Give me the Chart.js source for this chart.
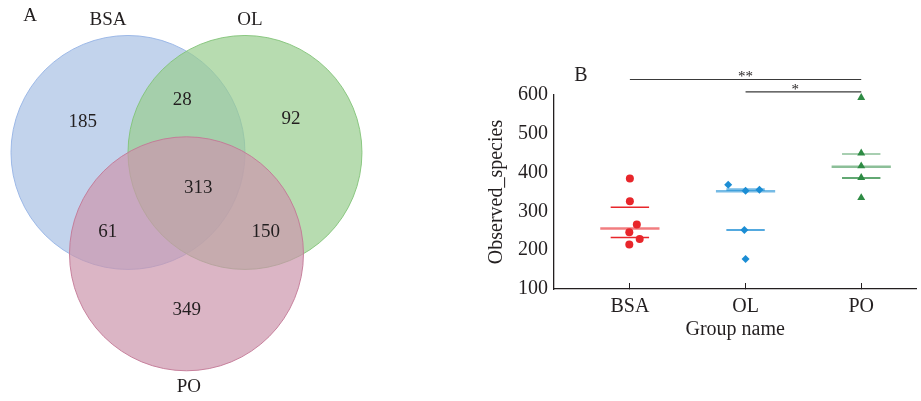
<!DOCTYPE html>
<html>
<head>
<meta charset="utf-8">
<script src="https://cdn.jsdelivr.net/npm/chart.js@4.4.0/dist/chart.umd.min.js"></script>
<style>
    body { margin: 0; background: #fff; }
    #wrap { position: relative; width: 921px; height: 401px; }
    #venn { position: absolute; left: 0; top: 0; }
    #dots { position: absolute; left: 460px; top: 0; }
</style>
</head>
<body>
<div id="wrap">
    <canvas id="venn" width="460" height="401"></canvas>
    <canvas id="dots" width="461" height="401"></canvas>
</div>
<script>
// ---- Panel A data (Venn) ----
const vennSets = ['BSA', 'OL', 'PO'];
// circle centres, unit radius
const vennCentersX = [-0.5, 0.5, 0];
const vennCentersY = [0, 0, -0.866];
const vennRadius = 1;
// BSA only, OL only, PO only, BSA&OL, BSA&PO, OL&PO, all three
const vennCounts = [185, 92, 349, 28, 61, 150, 313];
const vennCountX = [-0.887, 0.893, 0.002, -0.036, -0.674, 0.677, 0.101];
const vennCountY = [0.263, 0.283, -1.344, 0.448, -0.677, -0.682, -0.306];
const vennSetLabelX = [-0.671, 0.543, 0.021];
const vennSetLabelY = [1.132, 1.132, -2.005];

// ---- Panel B data (Observed_species) ----
const groups = ['BSA', 'OL', 'PO'];
const bsaValues = [385, 326, 266, 246, 229, 215];
const bsaJitter = [0, 0, 0.06, -0.005, 0.085, -0.005];
const olValues = [369, 353, 356, 252, 177];
const olJitter = [-0.15, 0, 0.12, -0.01, 0];
const poValues = [593, 450, 417, 387, 335];
const poJitter = [0, 0, 0, 0, 0];
const q1 = [233, 252, 386];
const medians = [256, 352, 415];
const q3 = [311, 356, 448];
const yTicks = [100, 200, 300, 400, 500, 600];
// significance brackets
const sigFrom = [1, 2];
const sigTo = [3, 3];
const sigLevel = [640, 608];
const sigLabels = ['**', '*'];
const sigLabelX = [2, 2.43];

Chart.defaults.font.family = '"Liberation Serif", "Times New Roman", serif';
Chart.defaults.color = '#231f20';

const TEXT = '#231f20';

// Venn circles
const vennFill = ['rgba(168,192,228,0.7)', 'rgba(152,205,142,0.7)', 'rgba(204,149,172,0.7)'];
const vennLine = ['rgba(150,180,230,0.9)', 'rgba(130,195,120,0.9)', 'rgba(195,120,150,0.9)'];

const radiusPx = ctx => {
    const s = ctx.chart.scales.x;
    return Math.abs(s.getPixelForValue(vennRadius) - s.getPixelForValue(0));
};

const vennText = {
    id: 'vennText',
    afterDatasetsDraw(chart) {
        const { ctx, scales: { x, y } } = chart;
        ctx.save();
        ctx.fillStyle = TEXT;
        ctx.textAlign = 'center';
        ctx.textBaseline = 'middle';
        ctx.font = '19px "Liberation Serif"';
        vennCounts.forEach((v, i) => {
            ctx.fillText(String(v), x.getPixelForValue(vennCountX[i]), y.getPixelForValue(vennCountY[i]));
        });
        vennSets.forEach((name, i) => {
            ctx.fillText(name, x.getPixelForValue(vennSetLabelX[i]), y.getPixelForValue(vennSetLabelY[i]));
        });
        ctx.fillText('A', 30, 16);
        ctx.restore();
    }
};

new Chart(document.getElementById('venn'), {
    type: 'scatter',
    data: {
        datasets: vennSets.map((name, i) => ({
            label: name,
            data: [{ x: vennCentersX[i], y: vennCentersY[i] }],
            backgroundColor: vennFill[i],
            borderColor: vennLine[i],
            borderWidth: 1,
            pointRadius: radiusPx,
            pointHoverRadius: radiusPx,
            clip: false,
            order: 3 - i
        }))
    },
    options: {
        responsive: false,
        animation: false,
        events: [],
        layout: { padding: 0 },
        plugins: { legend: { display: false }, tooltip: { enabled: false } },
        scales: {
            x: { type: 'linear', display: false, min: -1.594, max: 2.338 },
            y: { type: 'linear', display: false, min: -2.124, max: 1.303 }
        }
    },
    plugins: [vennText]
});

// Panel B
const groupColors = ['#e8262b', '#1b8dd4', '#2e8b44'];
const groupFaded = ['rgba(232,38,43,0.6)', 'rgba(27,141,212,0.6)', 'rgba(46,139,68,0.55)'];
const groupStyles = ['circle', 'rectRot', 'triangle'];
const groupRadius = [4, 4, 4.6];
const groupValues = [bsaValues, olValues, poValues];
const groupJitter = [bsaJitter, olJitter, poJitter];

const pointSets = groups.map((g, i) => ({
    label: g,
    type: 'scatter',
    data: groupValues[i].map((v, k) => ({ x: i + 1 + groupJitter[i][k], y: v })),
    backgroundColor: groupColors[i],
    borderColor: groupColors[i],
    borderWidth: 0,
    pointStyle: groupStyles[i],
    pointRadius: groupRadius[i],
    clip: false
}));

function statLine(i, value, half, color, width) {
    return {
        type: 'line',
        data: [{ x: i + 1 - half, y: value }, { x: i + 1 + half, y: value }],
        borderColor: color,
        borderWidth: width,
        pointRadius: 0,
        clip: false
    };
}

const statSets = [];
groups.forEach((g, i) => {
    statSets.push(statLine(i, medians[i], 0.256, groupFaded[i], 2.6));
    statSets.push(statLine(i, q1[i], 0.166, groupColors[i], 1.5));
    statSets.push(statLine(i, q3[i], 0.166, i === 0 ? groupColors[i] : groupFaded[i], i === 1 ? 2.6 : 1.5));
});

const sigSets = sigFrom.map((f, i) => ({
    type: 'line',
    data: [{ x: f, y: sigLevel[i] }, { x: sigTo[i], y: sigLevel[i] }],
    borderColor: '#3a3a3a',
    borderWidth: 1.2,
    pointRadius: 0,
    clip: false
}));

const dotText = {
    id: 'dotText',
    afterDatasetsDraw(chart) {
        const { ctx, scales: { x, y } } = chart;
        ctx.save();
        ctx.fillStyle = TEXT;
        ctx.textAlign = 'center';
        ctx.textBaseline = 'alphabetic';
        ctx.font = '15px "Liberation Serif"';
        sigLabels.forEach((s, i) => {
            ctx.fillText(s, x.getPixelForValue(sigLabelX[i]), y.getPixelForValue(sigLevel[i]) + 2);
        });
        ctx.textBaseline = 'middle';
        ctx.font = '20px "Liberation Serif"';
        ctx.fillText('B', 121, 76);
        ctx.restore();
    }
};

new Chart(document.getElementById('dots'), {
    type: 'scatter',
    data: { datasets: [...pointSets, ...statSets, ...sigSets] },
    options: {
        responsive: false,
        animation: false,
        events: [],
        layout: { padding: { left: 21, right: 4, top: 95, bottom: 57 } },
        plugins: { legend: { display: false }, tooltip: { enabled: false } },
        scales: {
            x: {
                type: 'linear',
                min: 0.344,
                max: 3.477,
                afterBuildTicks: s => { s.ticks = groups.map((g, i) => ({ value: i + 1 })); },
                afterFit: s => { s.height = 55; },
                ticks: {
                    callback: v => groups[v - 1],
                    font: { size: 20 },
                    color: TEXT,
                    padding: 12,
                    maxRotation: 0
                },
                grid: { display: true, drawOnChartArea: false, drawTicks: true, tickLength: -6, color: '#231f20', lineWidth: 1 },
                border: { display: true, color: '#231f20', width: 1.3 },
                title: { display: true, text: 'Group name', font: { size: 20 }, color: TEXT, padding: { top: 4, bottom: 2 } }
            },
            y: {
                type: 'linear',
                min: 100,
                max: 600,
                afterBuildTicks: s => { s.ticks = yTicks.map(v => ({ value: v })); },
                afterFit: s => { s.width = 73; },
                ticks: { font: { size: 20 }, color: TEXT, padding: 6 },
                grid: { display: false, drawTicks: false },
                border: { display: true, color: '#231f20', width: 1.3 },
                title: { display: true, text: 'Observed_species', font: { size: 20 }, color: TEXT, padding: { top: 4, bottom: 4 } }
            }
        }
    },
    plugins: [dotText]
});
</script>
</body>
</html>
